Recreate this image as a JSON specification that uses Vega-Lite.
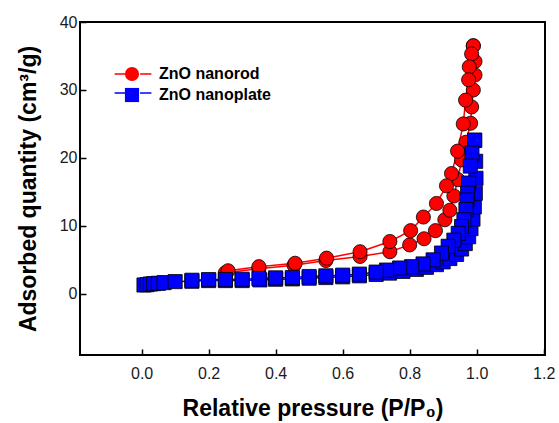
{
  "$schema": "https://vega.github.io/schema/vega-lite/v6.json",
  "width": 465,
  "height": 333,
  "autosize": {"type": "none"},
  "padding": {"left": 80, "top": 22, "right": 14, "bottom": 68},
  "background": "white",
  "config": {
    "font": "Liberation Sans",
    "view": {"stroke": "black", "strokeWidth": 2},
    "axis": {
      "domain": false,
      "grid": false,
      "ticks": true,
      "tickSize": -6,
      "tickColor": "black",
      "tickWidth": 1.5,
      "labelFont": "Liberation Sans",
      "labelFontSize": 16,
      "labelColor": "#1a1a1a",
      "titleFont": "Liberation Sans",
      "titleFontSize": 23,
      "titleFontWeight": "bold",
      "titleColor": "black"
    }
  },
  "data": {
    "values": [
      {"series": "ZnO nanorod", "branch": "rod-ads", "i": 1, "x": 0.25, "y": 3.1},
      {"series": "ZnO nanorod", "branch": "rod-ads", "i": 2, "x": 0.35, "y": 3.7},
      {"series": "ZnO nanorod", "branch": "rod-ads", "i": 3, "x": 0.455, "y": 4.2},
      {"series": "ZnO nanorod", "branch": "rod-ads", "i": 4, "x": 0.55, "y": 4.9},
      {"series": "ZnO nanorod", "branch": "rod-ads", "i": 5, "x": 0.652, "y": 5.5},
      {"series": "ZnO nanorod", "branch": "rod-ads", "i": 6, "x": 0.741, "y": 6.2},
      {"series": "ZnO nanorod", "branch": "rod-ads", "i": 7, "x": 0.8, "y": 7.2},
      {"series": "ZnO nanorod", "branch": "rod-ads", "i": 8, "x": 0.843, "y": 8.1},
      {"series": "ZnO nanorod", "branch": "rod-ads", "i": 9, "x": 0.877, "y": 9.3},
      {"series": "ZnO nanorod", "branch": "rod-ads", "i": 10, "x": 0.905, "y": 10.9},
      {"series": "ZnO nanorod", "branch": "rod-ads", "i": 11, "x": 0.92, "y": 12.3},
      {"series": "ZnO nanorod", "branch": "rod-ads", "i": 12, "x": 0.932, "y": 14.4},
      {"series": "ZnO nanorod", "branch": "rod-ads", "i": 13, "x": 0.944, "y": 16.8},
      {"series": "ZnO nanorod", "branch": "rod-ads", "i": 14, "x": 0.955, "y": 19.7},
      {"series": "ZnO nanorod", "branch": "rod-ads", "i": 15, "x": 0.968, "y": 22.3},
      {"series": "ZnO nanorod", "branch": "rod-ads", "i": 16, "x": 0.982, "y": 25.1},
      {"series": "ZnO nanorod", "branch": "rod-ads", "i": 17, "x": 0.985, "y": 27.5},
      {"series": "ZnO nanorod", "branch": "rod-ads", "i": 18, "x": 0.99, "y": 30.0},
      {"series": "ZnO nanorod", "branch": "rod-ads", "i": 19, "x": 0.995, "y": 32.2},
      {"series": "ZnO nanorod", "branch": "rod-ads", "i": 20, "x": 0.995, "y": 34.2},
      {"series": "ZnO nanorod", "branch": "rod-ads", "i": 21, "x": 0.99, "y": 36.5},
      {"series": "ZnO nanorod", "branch": "rod-des", "i": 22, "x": 0.99, "y": 36.5},
      {"series": "ZnO nanorod", "branch": "rod-des", "i": 23, "x": 0.985, "y": 35.3},
      {"series": "ZnO nanorod", "branch": "rod-des", "i": 24, "x": 0.978, "y": 33.4},
      {"series": "ZnO nanorod", "branch": "rod-des", "i": 25, "x": 0.976, "y": 31.5},
      {"series": "ZnO nanorod", "branch": "rod-des", "i": 26, "x": 0.967, "y": 28.5},
      {"series": "ZnO nanorod", "branch": "rod-des", "i": 27, "x": 0.96, "y": 25.0},
      {"series": "ZnO nanorod", "branch": "rod-des", "i": 28, "x": 0.943, "y": 21.0},
      {"series": "ZnO nanorod", "branch": "rod-des", "i": 29, "x": 0.925, "y": 17.7},
      {"series": "ZnO nanorod", "branch": "rod-des", "i": 30, "x": 0.91, "y": 15.9},
      {"series": "ZnO nanorod", "branch": "rod-des", "i": 31, "x": 0.88, "y": 13.3},
      {"series": "ZnO nanorod", "branch": "rod-des", "i": 32, "x": 0.841, "y": 11.3},
      {"series": "ZnO nanorod", "branch": "rod-des", "i": 33, "x": 0.803, "y": 9.3},
      {"series": "ZnO nanorod", "branch": "rod-des", "i": 34, "x": 0.741, "y": 7.7},
      {"series": "ZnO nanorod", "branch": "rod-des", "i": 35, "x": 0.652, "y": 6.2},
      {"series": "ZnO nanorod", "branch": "rod-des", "i": 36, "x": 0.552, "y": 5.25},
      {"series": "ZnO nanorod", "branch": "rod-des", "i": 37, "x": 0.458, "y": 4.5},
      {"series": "ZnO nanorod", "branch": "rod-des", "i": 38, "x": 0.35, "y": 4.0},
      {"series": "ZnO nanorod", "branch": "rod-des", "i": 39, "x": 0.258, "y": 3.4},
      {"series": "ZnO nanoplate", "branch": "plate-ads", "i": 40, "x": 0.007, "y": 1.3},
      {"series": "ZnO nanoplate", "branch": "plate-ads", "i": 41, "x": 0.016, "y": 1.35},
      {"series": "ZnO nanoplate", "branch": "plate-ads", "i": 42, "x": 0.026, "y": 1.45},
      {"series": "ZnO nanoplate", "branch": "plate-ads", "i": 43, "x": 0.036, "y": 1.5},
      {"series": "ZnO nanoplate", "branch": "plate-ads", "i": 44, "x": 0.05, "y": 1.55},
      {"series": "ZnO nanoplate", "branch": "plate-ads", "i": 45, "x": 0.067, "y": 1.65},
      {"series": "ZnO nanoplate", "branch": "plate-ads", "i": 46, "x": 0.1, "y": 1.8},
      {"series": "ZnO nanoplate", "branch": "plate-ads", "i": 47, "x": 0.15, "y": 1.85},
      {"series": "ZnO nanoplate", "branch": "plate-ads", "i": 48, "x": 0.2, "y": 1.95},
      {"series": "ZnO nanoplate", "branch": "plate-ads", "i": 49, "x": 0.25, "y": 1.95},
      {"series": "ZnO nanoplate", "branch": "plate-ads", "i": 50, "x": 0.3, "y": 1.95},
      {"series": "ZnO nanoplate", "branch": "plate-ads", "i": 51, "x": 0.353, "y": 2.05},
      {"series": "ZnO nanoplate", "branch": "plate-ads", "i": 52, "x": 0.4, "y": 2.15},
      {"series": "ZnO nanoplate", "branch": "plate-ads", "i": 53, "x": 0.45, "y": 2.2},
      {"series": "ZnO nanoplate", "branch": "plate-ads", "i": 54, "x": 0.5, "y": 2.3},
      {"series": "ZnO nanoplate", "branch": "plate-ads", "i": 55, "x": 0.55, "y": 2.4},
      {"series": "ZnO nanoplate", "branch": "plate-ads", "i": 56, "x": 0.6, "y": 2.5},
      {"series": "ZnO nanoplate", "branch": "plate-ads", "i": 57, "x": 0.65, "y": 2.65},
      {"series": "ZnO nanoplate", "branch": "plate-ads", "i": 58, "x": 0.7, "y": 2.85},
      {"series": "ZnO nanoplate", "branch": "plate-ads", "i": 59, "x": 0.74, "y": 3.05},
      {"series": "ZnO nanoplate", "branch": "plate-ads", "i": 60, "x": 0.78, "y": 3.3},
      {"series": "ZnO nanoplate", "branch": "plate-ads", "i": 61, "x": 0.82, "y": 3.6},
      {"series": "ZnO nanoplate", "branch": "plate-ads", "i": 62, "x": 0.85, "y": 3.9},
      {"series": "ZnO nanoplate", "branch": "plate-ads", "i": 63, "x": 0.88, "y": 4.3},
      {"series": "ZnO nanoplate", "branch": "plate-ads", "i": 64, "x": 0.9, "y": 4.7},
      {"series": "ZnO nanoplate", "branch": "plate-ads", "i": 65, "x": 0.92, "y": 5.2},
      {"series": "ZnO nanoplate", "branch": "plate-ads", "i": 66, "x": 0.94, "y": 5.8},
      {"series": "ZnO nanoplate", "branch": "plate-ads", "i": 67, "x": 0.955, "y": 6.6},
      {"series": "ZnO nanoplate", "branch": "plate-ads", "i": 68, "x": 0.966, "y": 7.4},
      {"series": "ZnO nanoplate", "branch": "plate-ads", "i": 69, "x": 0.976, "y": 8.4},
      {"series": "ZnO nanoplate", "branch": "plate-ads", "i": 70, "x": 0.983, "y": 9.6},
      {"series": "ZnO nanoplate", "branch": "plate-ads", "i": 71, "x": 0.989, "y": 11.0},
      {"series": "ZnO nanoplate", "branch": "plate-ads", "i": 72, "x": 0.993, "y": 12.8},
      {"series": "ZnO nanoplate", "branch": "plate-ads", "i": 73, "x": 0.996, "y": 14.8},
      {"series": "ZnO nanoplate", "branch": "plate-ads", "i": 74, "x": 0.998, "y": 17.0},
      {"series": "ZnO nanoplate", "branch": "plate-ads", "i": 75, "x": 0.997, "y": 19.5},
      {"series": "ZnO nanoplate", "branch": "plate-ads", "i": 76, "x": 0.994, "y": 22.6},
      {"series": "ZnO nanoplate", "branch": "plate-des", "i": 77, "x": 0.994, "y": 22.6},
      {"series": "ZnO nanoplate", "branch": "plate-des", "i": 78, "x": 0.986, "y": 20.7},
      {"series": "ZnO nanoplate", "branch": "plate-des", "i": 79, "x": 0.981, "y": 18.8},
      {"series": "ZnO nanoplate", "branch": "plate-des", "i": 80, "x": 0.976, "y": 16.3},
      {"series": "ZnO nanoplate", "branch": "plate-des", "i": 81, "x": 0.973, "y": 14.8},
      {"series": "ZnO nanoplate", "branch": "plate-des", "i": 82, "x": 0.971, "y": 13.8},
      {"series": "ZnO nanoplate", "branch": "plate-des", "i": 83, "x": 0.968, "y": 12.4},
      {"series": "ZnO nanoplate", "branch": "plate-des", "i": 84, "x": 0.962, "y": 10.9},
      {"series": "ZnO nanoplate", "branch": "plate-des", "i": 85, "x": 0.955, "y": 9.9},
      {"series": "ZnO nanoplate", "branch": "plate-des", "i": 86, "x": 0.945, "y": 8.9},
      {"series": "ZnO nanoplate", "branch": "plate-des", "i": 87, "x": 0.932, "y": 7.9},
      {"series": "ZnO nanoplate", "branch": "plate-des", "i": 88, "x": 0.915, "y": 7.0},
      {"series": "ZnO nanoplate", "branch": "plate-des", "i": 89, "x": 0.895, "y": 6.0},
      {"series": "ZnO nanoplate", "branch": "plate-des", "i": 90, "x": 0.87, "y": 5.0},
      {"series": "ZnO nanoplate", "branch": "plate-des", "i": 91, "x": 0.84, "y": 4.4},
      {"series": "ZnO nanoplate", "branch": "plate-des", "i": 92, "x": 0.806, "y": 4.0},
      {"series": "ZnO nanoplate", "branch": "plate-des", "i": 93, "x": 0.77, "y": 3.8},
      {"series": "ZnO nanoplate", "branch": "plate-des", "i": 94, "x": 0.731, "y": 3.5},
      {"series": "ZnO nanoplate", "branch": "plate-des", "i": 95, "x": 0.7, "y": 3.2},
      {"series": "ZnO nanoplate", "branch": "plate-des", "i": 96, "x": 0.65, "y": 2.9},
      {"series": "ZnO nanoplate", "branch": "plate-des", "i": 97, "x": 0.6, "y": 2.75},
      {"series": "ZnO nanoplate", "branch": "plate-des", "i": 98, "x": 0.55, "y": 2.65},
      {"series": "ZnO nanoplate", "branch": "plate-des", "i": 99, "x": 0.5, "y": 2.55},
      {"series": "ZnO nanoplate", "branch": "plate-des", "i": 100, "x": 0.45, "y": 2.4},
      {"series": "ZnO nanoplate", "branch": "plate-des", "i": 101, "x": 0.4, "y": 2.35},
      {"series": "ZnO nanoplate", "branch": "plate-des", "i": 102, "x": 0.35, "y": 2.25},
      {"series": "ZnO nanoplate", "branch": "plate-des", "i": 103, "x": 0.3, "y": 2.15},
      {"series": "ZnO nanoplate", "branch": "plate-des", "i": 104, "x": 0.25, "y": 2.1},
      {"series": "ZnO nanoplate", "branch": "plate-des", "i": 105, "x": 0.2, "y": 2.1},
      {"series": "ZnO nanoplate", "branch": "plate-des", "i": 106, "x": 0.15, "y": 2.0}
    ]
  },
  "layer": [
    {
      "mark": {"type": "line", "strokeWidth": 1.5},
      "encoding": {
        "x": {
          "field": "x", "type": "quantitative",
          "scale": {"domain": [-0.184, 1.204], "nice": false, "zero": false},
          "axis": {"values": [0, 0.2, 0.4, 0.6, 0.8, 1.0, 1.2], "format": ".1f", "labelPadding": 16, "titlePadding": 16},
          "title": "Relative pressure (P/P₀)"
        },
        "y": {
          "field": "y", "type": "quantitative",
          "scale": {"domain": [-9, 40], "nice": false, "zero": false},
          "axis": {"values": [0, 10, 20, 30, 40], "labelPadding": 9, "titlePadding": 19},
          "title": "Adsorbed quantity (cm³/g)"
        },
        "stroke": {
          "field": "series", "type": "nominal",
          "scale": {"domain": ["ZnO nanoplate", "ZnO nanorod"], "range": ["#0000ff", "#ff0000"]},
          "legend": {
            "orient": "none", "legendX": 45, "legendY": 44, "title": null, "padding": 0,
            "values": ["ZnO nanorod", "ZnO nanoplate"],
            "symbolType": "M-2.6,0H-1M1,0H2.6", "symbolSize": 200, "symbolStrokeWidth": 1.5,
            "labelExpr": "''", "rowPadding": 3, "labelFontSize": 16
          }
        },
        "detail": {"field": "branch"},
        "order": {"field": "i"}
      }
    },
    {
      "mark": {"type": "point", "filled": true, "opacity": 1, "stroke": "black", "strokeWidth": 0.8, "size": 200},
      "encoding": {
        "x": {"field": "x", "type": "quantitative"},
        "y": {"field": "y", "type": "quantitative"},
        "fill": {
          "field": "series", "type": "nominal",
          "scale": {"domain": ["ZnO nanorod", "ZnO nanoplate"], "range": ["#ff0000", "#0000ff"]},
          "legend": {
            "orient": "top-left", "offset": 44, "title": null, "padding": 0,
            "symbolSize": 200, "symbolStrokeColor": "black", "symbolStrokeWidth": 0.8,
            "labelFontSize": 16, "labelFontWeight": "bold", "labelColor": "black", "labelOffset": 19,
            "rowPadding": 3
          }
        },
        "shape": {
          "field": "series", "type": "nominal",
          "scale": {"domain": ["ZnO nanorod", "ZnO nanoplate"], "range": ["circle", "square"]},
          "legend": {
            "orient": "top-left", "offset": 44, "title": null, "padding": 0,
            "symbolSize": 200, "symbolStrokeColor": "black", "symbolStrokeWidth": 0.8,
            "labelFontSize": 16, "labelFontWeight": "bold", "labelColor": "black", "labelOffset": 19,
            "rowPadding": 3
          }
        },
        "order": {"field": "i"}
      }
    }
  ]
}
